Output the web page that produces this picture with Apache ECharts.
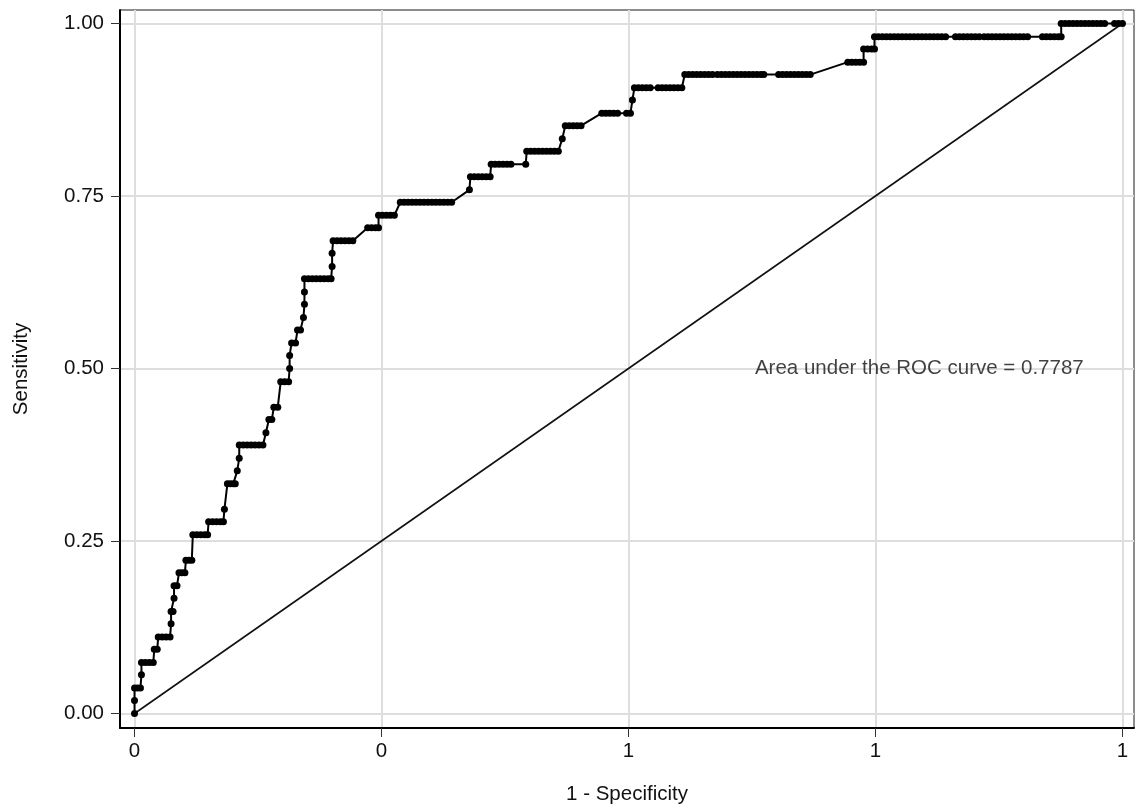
<!DOCTYPE html>
<html>
<head>
<meta charset="utf-8">
<script src="https://cdn.jsdelivr.net/npm/echarts/dist/echarts.min.js"></script>
<style>
html,body{margin:0;padding:0;background:#fff;}
#chart{width:1135px;height:810px;}
</style>
</head>
<body>
<div id="chart"></div>
<script>
// ---- data ----
const xTicks = [0, 0.25, 0.5, 0.75, 1];
const xTickLabels = ['0', '0', '1', '1', '1'];
const yTicks = [0, 0.25, 0.5, 0.75, 1];
const yTickLabels = ['0.00', '0.25', '0.50', '0.75', '1.00'];
const xTitle = '1 - Specificity';
const yTitle = 'Sensitivity';
const aucText = 'Area under the ROC curve = 0.7787';
const aucPos = [0.628, 0.5];
const referenceLine = [[0, 0], [1, 1]];

// ROC curve: [sensitivity, [1 - specificity values at that sensitivity]]
const rocSteps = [
  [0.000, [0]],
  [0.019, [0]],
  [0.037, [0, 0.003, 0.006]],
  [0.056, [0.007]],
  [0.074, [0.007, 0.011, 0.015, 0.019]],
  [0.093, [0.020, 0.023]],
  [0.111, [0.024, 0.028, 0.032, 0.036]],
  [0.130, [0.037]],
  [0.148, [0.037, 0.039]],
  [0.167, [0.040]],
  [0.185, [0.040, 0.043]],
  [0.204, [0.045, 0.048, 0.051]],
  [0.222, [0.052, 0.055, 0.058]],
  [0.259, [0.059, 0.063, 0.067, 0.071, 0.074]],
  [0.278, [0.075, 0.079, 0.083, 0.087, 0.090]],
  [0.296, [0.091]],
  [0.333, [0.094, 0.097, 0.100, 0.102]],
  [0.352, [0.104]],
  [0.370, [0.106]],
  [0.389, [0.106, 0.110, 0.114, 0.118, 0.122, 0.126, 0.130]],
  [0.407, [0.133]],
  [0.426, [0.136, 0.139]],
  [0.444, [0.141, 0.145]],
  [0.481, [0.148, 0.152, 0.156]],
  [0.500, [0.157]],
  [0.519, [0.157]],
  [0.537, [0.159, 0.163]],
  [0.556, [0.165, 0.168]],
  [0.574, [0.171]],
  [0.593, [0.172]],
  [0.611, [0.172]],
  [0.630, [0.172, 0.176, 0.180, 0.184, 0.188, 0.192, 0.196, 0.199]],
  [0.648, [0.200]],
  [0.667, [0.200]],
  [0.685, [0.201, 0.205, 0.209, 0.213, 0.217, 0.221]],
  [0.704, [0.236, 0.240, 0.244, 0.247]],
  [0.722, [0.247, 0.251, 0.255, 0.259, 0.263]],
  [0.741, [0.269, 0.273, 0.277, 0.281, 0.285, 0.289, 0.293, 0.297, 0.301, 0.305, 0.309, 0.313, 0.317, 0.321]],
  [0.759, [0.339]],
  [0.778, [0.340, 0.344, 0.348, 0.352, 0.356, 0.360]],
  [0.796, [0.361, 0.365, 0.369, 0.373, 0.377, 0.381, 0.396]],
  [0.815, [0.397, 0.401, 0.405, 0.409, 0.413, 0.417, 0.421, 0.425, 0.429]],
  [0.833, [0.433]],
  [0.852, [0.436, 0.440, 0.444, 0.448, 0.452]],
  [0.870, [0.473, 0.477, 0.481, 0.485, 0.489, 0.498, 0.502]],
  [0.889, [0.504]],
  [0.907, [0.506, 0.510, 0.514, 0.518, 0.522, 0.530, 0.534, 0.538, 0.542, 0.546, 0.550, 0.554]],
  [0.926, [0.557, 0.561, 0.565, 0.569, 0.573, 0.577, 0.581, 0.585, 0.590, 0.594, 0.598, 0.602, 0.606, 0.610, 0.614, 0.618, 0.622, 0.626, 0.630, 0.634, 0.637,
           0.652, 0.656, 0.660, 0.664, 0.668, 0.672, 0.676, 0.680, 0.684]],
  [0.944, [0.722, 0.726, 0.730, 0.734, 0.738]],
  [0.963, [0.738, 0.742, 0.746, 0.749]],
  [0.981, [0.749, 0.753, 0.757, 0.761, 0.765, 0.769, 0.773, 0.777, 0.781, 0.785, 0.789, 0.793, 0.797, 0.801, 0.805, 0.809, 0.813, 0.817, 0.821,
           0.831, 0.835, 0.839, 0.843, 0.847, 0.851, 0.855,
           0.860, 0.864, 0.868, 0.872, 0.876, 0.880, 0.884, 0.888, 0.892, 0.896, 0.900, 0.904,
           0.919, 0.923, 0.927, 0.931, 0.935, 0.938]],
  [1.000, [0.938, 0.942, 0.946, 0.950, 0.954, 0.958, 0.962, 0.966, 0.970, 0.974, 0.978, 0.982, 0.992, 0.996, 1.000]]
];

// flatten steps into [x, y] pairs
const rocPoints = [];
rocSteps.forEach(function (s) {
  s[1].forEach(function (x) { rocPoints.push([x, s[0]]); });
});

const FONT = 'Liberation Sans, Arial, sans-serif';
const FS = 20.5;
const chart = echarts.init(document.getElementById('chart'), null, {renderer: 'canvas'});

chart.setOption({
  animation: false,
  backgroundColor: '#ffffff',
  grid: {
    left: 120, right: 1, top: 10, bottom: 81,
    show: true, borderColor: '#1a1a1a', borderWidth: 1, backgroundColor: '#ffffff'
  },
  xAxis: {
    type: 'value',
    min: -0.0147, max: 1.0117,
    name: xTitle, nameLocation: 'middle', nameGap: 56,
    nameTextStyle: {fontFamily: FONT, fontSize: FS, color: '#111'},
    axisLine: {show: true, onZero: false, lineStyle: {color: '#000', width: 2}},
    axisTick: {show: true, length: 9, customValues: xTicks, lineStyle: {color: '#333', width: 1}},
    axisLabel: {
      customValues: xTicks, margin: 13,
      fontFamily: FONT, fontSize: FS, color: '#111',
      formatter: function (v) { return xTickLabels[xTicks.indexOf(v)]; }
    },
    splitLine: {show: true, lineStyle: {color: '#dedede', width: 2}}
  },
  yAxis: {
    type: 'value',
    min: -0.021, max: 1.0196,
    name: yTitle, nameLocation: 'middle', nameGap: 88, nameRotate: 90,
    nameTextStyle: {fontFamily: FONT, fontSize: FS, color: '#111'},
    axisLine: {show: true, onZero: false, lineStyle: {color: '#000', width: 2}},
    axisTick: {show: true, length: 9, customValues: yTicks, lineStyle: {color: '#333', width: 1}},
    axisLabel: {
      customValues: yTicks, margin: 16,
      fontFamily: FONT, fontSize: FS, color: '#111',
      formatter: function (v) { return yTickLabels[yTicks.indexOf(v)]; }
    },
    splitLine: {show: true, lineStyle: {color: '#dedede', width: 2}}
  },
  series: [
    {
      type: 'line',
      data: referenceLine,
      symbol: 'none',
      lineStyle: {color: '#111', width: 1.6},
      z: 3
    },
    {
      type: 'line',
      data: rocPoints,
      symbol: 'circle', symbolSize: 7, showSymbol: true,
      itemStyle: {color: '#000'},
      lineStyle: {color: '#000', width: 2},
      z: 4
    },
    {
      type: 'scatter',
      data: [aucPos],
      symbolSize: 1,
      itemStyle: {color: 'rgba(0,0,0,0)'},
      label: {
        show: true, position: 'inside', align: 'left', verticalAlign: 'middle',
        formatter: aucText,
        fontFamily: FONT, fontSize: FS, color: '#111'
      },
      z: 5
    }
  ]
});
</script>
</body>
</html>
